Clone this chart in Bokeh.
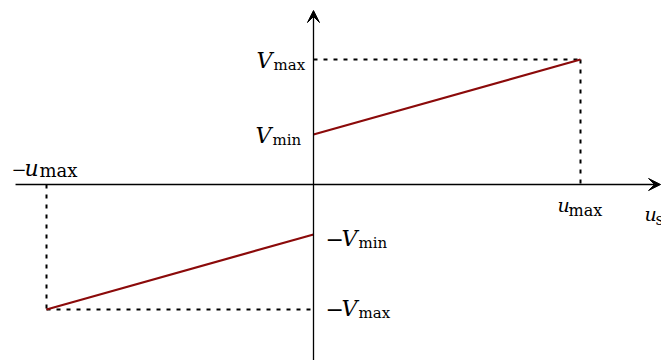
from bokeh.plotting import figure
from bokeh.models import Range1d, Arrow, VeeHead
from bokeh.core.properties import value
from bokeh.embed import file_html
from bokeh.resources import INLINE

# data
u_max = 1.0
V_min = 0.4
V_max = 1.0

pos_u = [0.0, u_max]
pos_v = [V_min, V_max]
neg_u = [-u_max, 0.0]
neg_v = [-V_max, -V_min]

W, H = 661, 360
p = figure(width=W, height=H, output_backend="svg", toolbar_location=None,
           x_range=Range1d(-1.1723, 1.3034), y_range=Range1d(-1.408, 1.472),
           min_border=0, outline_line_color=None)
p.axis.visible = False
p.grid.visible = False
p.background_fill_color = "white"
p.border_fill_color = "white"

# axes with arrows
p.add_layout(Arrow(x_start=-1.116, y_start=0, x_end=1.30, y_end=0,
                   line_width=1.3, line_color="black",
                   end=VeeHead(size=12, fill_color="black", line_color="black", line_width=1)))
p.add_layout(Arrow(x_start=0, y_start=-1.408, x_end=0, y_end=1.392,
                   line_width=1.3, line_color="black",
                   end=VeeHead(size=12, fill_color="black", line_color="black", line_width=1)))

# dotted guides
dash = "4 6"
p.line([0, u_max], [V_max, V_max], line_dash=dash, line_width=2, line_color="black")
p.line([u_max, u_max], [V_max, 0], line_dash=dash, line_width=2, line_color="black")
p.line([-u_max, -u_max], [0, -V_max], line_dash=dash, line_width=2, line_color="black")
p.line([-u_max, 0], [-V_max, -V_max], line_dash=dash, line_width=2, line_color="black")

# red lines
red = "#8b0a0a"
p.line(pos_u, pos_v, line_width=2.2, line_color=red)
p.line(neg_u, neg_v, line_width=2.2, line_color=red)

main_font = value("DejaVu Serif")
BASE = -7

def part(x, y, txt, dx, dy, size, italic):
    p.text(x=[x], y=[y], text=[txt], x_offset=dx, y_offset=dy + BASE,
           text_font=main_font, text_font_size=size,
           text_font_style="italic" if italic else "normal",
           text_align="left", text_baseline="alphabetic", text_color="black")

def mlabel(x, y, letter, sub, dx, dy, minus=False, madv=16, sub_dx=17,
           sub_dy=4, size="22px", sub_size="15px", minus_size="22px"):
    if minus:
        part(x, y, "\u2212", dx, dy, minus_size, False)
        dx += madv
    part(x, y, letter, dx, dy, size, True)
    part(x, y, sub, dx + sub_dx, dy + sub_dy, sub_size, False)

mlabel(0, V_max, "V", "max", -57, 8)
mlabel(0, V_min, "V", "min", -58, 8)
mlabel(0, -V_min, "V", "min", 12, 11, minus=True)
mlabel(0, -V_max, "V", "max", 12, 6, minus=True)
mlabel(u_max, 0, "u", "max", -23, 27, sub_dx=11, sub_dy=6, size="19px", sub_size="16px")
mlabel(-u_max, 0, "u", "max", -35, -9, minus=True, madv=13, sub_dx=15, sub_dy=2,
       size="22px", sub_size="18px", minus_size="18px")
mlabel(1.3034, 0, "u", "s", -17, 36, sub_dx=11, sub_dy=6, size="19px", sub_size="16px")

open("out.html", "w").write(file_html(p, INLINE))
